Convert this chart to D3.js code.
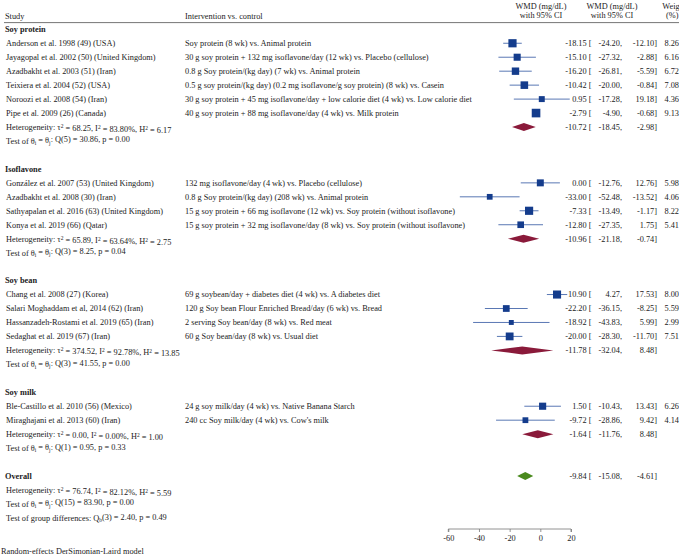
<!DOCTYPE html>
<html><head><meta charset="utf-8">
<script src="https://cdn.jsdelivr.net/npm/d3@7"></script>
<style>
html,body{margin:0;padding:0;background:#fff;overflow:hidden;}
svg{display:block;}
text{font-family:"Liberation Serif","Times New Roman",serif;font-size:8.3px;fill:#222;}
</style></head><body>
<svg id="chart" width="679" height="556"></svg>
<script>
// ---------- DATA ----------
const groupNames = ["Soy protein", "Isoflavone", "Soy bean", "Soy milk"];
const studyGroup = [0,0,0,0,0,0, 1,1,1,1, 2,2,2,2, 3,3];
const studies = [
  "Anderson et al. 1998 (49) (USA)",
  "Jayagopal et al. 2002 (50) (United Kingdom)",
  "Azadbakht et al. 2003 (51) (Iran)",
  "Teixiera et al. 2004 (52) (USA)",
  "Noroozi et al. 2008 (54) (Iran)",
  "Pipe et al. 2009 (26) (Canada)",
  "González et al. 2007 (53) (United Kingdom)",
  "Azadbakht et al. 2008 (30) (Iran)",
  "Sathyapalan et al. 2016 (63) (United Kingdom)",
  "Konya et al. 2019 (66) (Qatar)",
  "Chang et al. 2008 (27) (Korea)",
  "Salari Moghaddam et al, 2014 (62) (Iran)",
  "Hassanzadeh-Rostami et al. 2019 (65) (Iran)",
  "Sedaghat et al.  2019 (67) (Iran)",
  "Ble-Castillo et al. 2010 (56) (Mexico)",
  "Miraghajani et al. 2013 (60) (Iran)"
];
const interventions = [
  "Soy protein (8 wk) vs. Animal protein",
  "30 g soy protein + 132 mg isoflavone/day (12 wk) vs. Placebo (cellulose)",
  "0.8 g Soy protein/(kg day) (7 wk) vs. Animal protein",
  "0.5 g soy protein/(kg day) (0.2 mg isoflavone/g soy protein) (8 wk) vs. Casein",
  "30 g soy protein + 45 mg isoflavone/day + low calorie diet (4 wk) vs. Low calorie diet",
  "40 g soy protein + 88 mg isoflavone/day (4 wk) vs. Milk protein",
  "132 mg isoflavone/day (4 wk) vs. Placebo (cellulose)",
  "0.8 g Soy protein/(kg day) (208 wk) vs. Animal protein",
  "15 g soy protein + 66 mg isoflavone (12 wk) vs. Soy protein (without isoflavone)",
  "15 g soy protein + 32 mg isoflavone/day (8 wk) vs. Soy protein (without isoflavone)",
  "69 g soybean/day + diabetes diet (4 wk) vs. A diabetes diet",
  "120 g Soy bean Flour Enriched Bread/day (6 wk) vs. Bread",
  "2 serving Soy bean/day (8 wk) vs. Red meat",
  "60 g Soy bean/day (8 wk) vs. Usual diet",
  "24 g soy milk/day (4 wk) vs. Native Banana Starch",
  "240 cc Soy milk/day (4 wk) vs. Cow's milk"
];
const wmd   = [-18.15, -15.10, -16.20, -10.42, 0.95, -2.79, 0.00, -33.00, -7.33, -12.80, 10.90, -22.20, -18.92, -20.00, 1.50, -9.72];
const lower = [-24.20, -27.32, -26.81, -20.00, -17.28, -4.90, -12.76, -52.48, -13.49, -27.35, 4.27, -36.15, -43.83, -28.30, -10.43, -28.86];
const upper = [-12.10, -2.88, -5.59, -0.84, 19.18, -0.68, 12.76, -13.52, -1.17, 1.75, 17.53, -8.25, 5.99, -11.70, 13.43, 9.42];
const weights = [8.26, 6.16, 6.72, 7.08, 4.36, 9.13, 5.98, 4.06, 8.22, 5.41, 8.00, 5.59, 2.99, 7.51, 6.26, 4.14];

const groupWmd   = [-10.72, -10.96, -11.78, -1.64];
const groupLower = [-18.45, -21.18, -32.04, -11.76];
const groupUpper = [-2.98, -0.74, 8.48, 8.48];
const groupTau2  = ["68.25", "65.89", "374.52", "0.00"];
const groupI2    = ["83.80%", "63.64%", "92.78%", "0.00%"];
const groupH2    = ["6.17", "2.75", "13.85", "1.00"];
const groupQdf   = [5, 3, 3, 1];
const groupQ     = ["30.86", "8.25", "41.55", "0.95"];
const groupP     = ["0.00", "0.04", "0.00", "0.33"];

const overall = {wmd: -9.84, lower: -15.08, upper: -4.61, tau2: "76.74", i2: "82.12%", h2: "5.59",
                 qdf: 15, q: "83.90", p: "0.00", qbdf: 3, qb: "2.40", pb: "0.49"};
const axisTicks = [-60, -40, -20, 0, 20];

// ---------- LAYOUT ----------
const svg = d3.select("#chart");
const x = d3.scaleLinear().domain([-60, 20]).range([448.3, 571]);
const rowY = i => 29.3 + i * 13.96;
const fmt = d3.format(".2f");
const f = v => fmt(v).replace("−", "-");

const blue = "#143c8c", ciCol = "#5a78b4", maroon = "#8a1a3a", green = "#4a8a1e";

// header
svg.append("text").attr("x", 5).attr("y", 15.7).attr("dy", "0.35em").text("Study");
svg.append("text").attr("x", 185).attr("y", 15.7).attr("dy", "0.35em").text("Intervention vs. control");
[541, 612].forEach(cx => {
  svg.append("text").attr("x", cx).attr("y", 5.7).attr("dy", "0.35em").attr("text-anchor", "middle").text("WMD (mg/dL)");
  svg.append("text").attr("x", cx).attr("y", 15.2).attr("dy", "0.35em").attr("text-anchor", "middle").text("with 95% CI");
});
svg.append("text").attr("x", 662.3).attr("y", 5.7).attr("dy", "0.35em").text("Weight");
svg.append("text").attr("x", 666).attr("y", 15.2).attr("dy", "0.35em").text("(%)");
svg.append("line").attr("x1", 4).attr("x2", 679).attr("y1", 22.6).attr("y2", 22.6)
  .attr("stroke", "#666").attr("stroke-width", 0.9);

function effectText(y, est, lo, hi) {
  svg.append("text").attr("x", 591.5).attr("y", y).attr("dy", "0.35em").attr("text-anchor", "end").text(f(est) + " [");
  svg.append("text").attr("x", 622).attr("y", y).attr("dy", "0.35em").attr("text-anchor", "end").text(f(lo) + ",");
  svg.append("text").attr("x", 657).attr("y", y).attr("dy", "0.35em").attr("text-anchor", "end").text(f(hi) + "]");
}
function hetText(y, tau2, i2, h2) {
  const t = svg.append("text").attr("x", 6).attr("y", y).attr("dy", "0.35em");
  t.append("tspan").text("Heterogeneity: τ");
  t.append("tspan").attr("dy", "-0.35em").attr("font-size", "5.5px").text("2");
  t.append("tspan").attr("dy", "0.35em").text(" = " + tau2 + ", I");
  t.append("tspan").attr("dy", "-0.35em").attr("font-size", "5.5px").text("2");
  t.append("tspan").attr("dy", "0.35em").text(" = " + i2 + ", H");
  t.append("tspan").attr("dy", "-0.35em").attr("font-size", "5.5px").text("2");
  t.append("tspan").attr("dy", "0.35em").text(" = " + h2);
}
function testText(y, df, q, p) {
  const t = svg.append("text").attr("x", 6).attr("y", y).attr("dy", "0.35em");
  t.append("tspan").text("Test of θ");
  t.append("tspan").attr("dy", "0.25em").attr("font-size", "5.5px").text("i");
  t.append("tspan").attr("dy", "-0.25em").text(" = θ");
  t.append("tspan").attr("dy", "0.25em").attr("font-size", "5.5px").text("j");
  t.append("tspan").attr("dy", "-0.25em").text(": Q(" + df + ") = " + q + ", p = " + p);
}
function diamond(y, est, lo, hi, col) {
  const h = 4;
  svg.append("path")
    .attr("d", `M${x(lo)},${y} L${x(est)},${y - h} L${x(hi)},${y} L${x(est)},${y + h} Z`)
    .attr("fill", col);
}

let row = 0;
groupNames.forEach((g, gi) => {
  svg.append("text").attr("x", 5).attr("y", rowY(row)).attr("dy", "0.35em")
    .attr("font-weight", "bold").text(g);
  row++;
  studies.forEach((s, i) => {
    if (studyGroup[i] !== gi) return;
    const y = rowY(row);
    svg.append("text").attr("x", 6).attr("y", y).attr("dy", "0.35em").text(s);
    svg.append("text").attr("x", 185).attr("y", y).attr("dy", "0.35em").text(interventions[i]);
    svg.append("line").attr("x1", x(lower[i])).attr("x2", x(upper[i])).attr("y1", y).attr("y2", y)
      .attr("stroke", ciCol).attr("stroke-width", 1);
    const side = 2.85 * Math.sqrt(weights[i]);
    svg.append("rect").attr("x", x(wmd[i]) - side / 2).attr("y", y - side / 2)
      .attr("width", side).attr("height", side).attr("fill", blue);
    effectText(y, wmd[i], lower[i], upper[i]);
    svg.append("text").attr("x", 664.5).attr("y", y).attr("dy", "0.35em").text(fmt(weights[i]));
    row++;
  });
  const yh = rowY(row);
  hetText(yh, groupTau2[gi], groupI2[gi], groupH2[gi]);
  diamond(yh, groupWmd[gi], groupLower[gi], groupUpper[gi], maroon);
  effectText(yh, groupWmd[gi], groupLower[gi], groupUpper[gi]);
  row++;
  testText(rowY(row), groupQdf[gi], groupQ[gi], groupP[gi]);
  row += 2;
});

// overall
const yo = rowY(row);
svg.append("text").attr("x", 5).attr("y", yo).attr("dy", "0.35em").attr("font-weight", "bold").text("Overall");
diamond(yo, overall.wmd, overall.lower, overall.upper, green);
effectText(yo, overall.wmd, overall.lower, overall.upper);
row++;
hetText(rowY(row), overall.tau2, overall.i2, overall.h2);
row++;
testText(rowY(row), overall.qdf, overall.q, overall.p);
row++;
{
  const t = svg.append("text").attr("x", 6).attr("y", rowY(row)).attr("dy", "0.35em");
  t.append("tspan").text("Test of group differences: Q");
  t.append("tspan").attr("dy", "0.25em").attr("font-size", "5.5px").text("b");
  t.append("tspan").attr("dy", "-0.25em").text("(" + overall.qbdf + ") = " + overall.qb + ", p = " + overall.pb);
}

// axis
const ax = svg.append("g").attr("transform", "translate(0,529)")
  .call(d3.axisBottom(x).tickValues(axisTicks).tickSize(3).tickSizeOuter(0).tickFormat(d3.format("d")));
ax.selectAll("path, line").attr("stroke", "#777").attr("stroke-width", 0.8);
ax.selectAll("text").attr("font-family", "Liberation Serif, serif").attr("font-size", "8.3px").attr("fill", "#222")
  .text(d => String(d).replace("−", "-"));
ax.select(".domain").attr("d", `M${x(-60)},3V0H${x(20)}V3`);

svg.append("text").attr("x", 1).attr("y", 551.3).attr("dy", "0.35em").text("Random-effects DerSimonian-Laird model");
</script>
</body></html>
